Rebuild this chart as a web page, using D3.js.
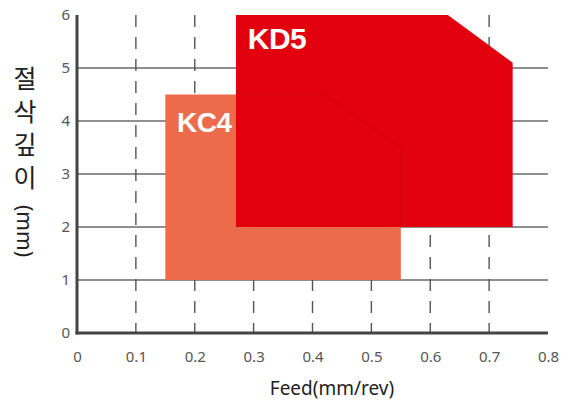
<!DOCTYPE html>
<html><head><meta charset="utf-8">
<script src="https://cdn.jsdelivr.net/npm/d3@7"></script>
<style>body{margin:0;background:#fff}svg{display:block}</style>
</head><body>
<svg id="c" width="569" height="405"></svg>
<script>
const xTicks = [0, 0.1, 0.2, 0.3, 0.4, 0.5, 0.6, 0.7, 0.8];
const yTicks = [0, 1, 2, 3, 4, 5, 6];
const seriesNames = ["KC4", "KD5"];
const kc4Points = [[0.15, 1], [0.15, 4.5], [0.42, 4.5], [0.55, 3.5], [0.55, 1]];
const kd5Points = [[0.27, 2], [0.27, 6], [0.63, 6], [0.74, 5.1], [0.74, 2]];
const labelPos = {KC4: [0.17, 3.8], KD5: [0.29, 5.35]};

const svg = d3.select("#c");
const x = d3.scaleLinear().domain([0, 0.8]).range([77, 548]);
const y = d3.scaleLinear().domain([0, 6]).range([333, 15]);

// horizontal grid
svg.append("g").selectAll("line").data(yTicks.filter(d => d > 0 && d < 6)).join("line")
  .attr("x1", x(0)).attr("x2", x(0.8)).attr("y1", d => y(d)).attr("y2", d => y(d))
  .attr("stroke", "#6a6a6a").attr("stroke-width", 1.6);
// vertical dashed grid
svg.append("g").selectAll("line").data(xTicks.filter(d => d > 0 && d < 0.8)).join("line")
  .attr("x1", d => x(d)).attr("x2", d => x(d)).attr("y1", y(6)).attr("y2", y(0))
  .attr("stroke", "#555").attr("stroke-width", 1.4).attr("stroke-dasharray", "12,10");

const line = d3.line().x(d => x(d[0])).y(d => y(d[1]));
svg.append("defs").append("clipPath").attr("id", "kd5clip")
  .append("path").attr("d", line(kd5Points) + "Z");
svg.append("path").attr("d", line(kc4Points) + "Z").attr("fill", "#ec6b4a");
svg.append("path").attr("d", line(kd5Points) + "Z").attr("fill", "#e2000f");
svg.append("path").attr("d", line(kc4Points) + "Z").attr("fill", "none")
  .attr("clip-path", "url(#kd5clip)")
  .attr("stroke", "#c4000d").attr("stroke-width", 1.2).attr("opacity", 0.6);

// labels
[["KC4", 28], ["KD5", 30]].forEach(([n, fs]) => {
  svg.append("text").attr("x", x(labelPos[n][0])).attr("y", y(labelPos[n][1]))
    .text(n).attr("fill", "#fff").attr("font-family", "Liberation Sans, Arial, sans-serif")
    .attr("font-weight", "bold").attr("font-size", fs).attr("letter-spacing", -0.5);
});

// axes lines
svg.append("line").attr("x1", x(0)).attr("x2", x(0)).attr("y1", y(6)).attr("y2", y(0) + 1.5)
  .attr("stroke", "#444").attr("stroke-width", 3);
svg.append("line").attr("x1", x(0) - 1.5).attr("x2", x(0.8)).attr("y1", y(0)).attr("y2", y(0))
  .attr("stroke", "#444").attr("stroke-width", 3);

// tick labels via axes
const xa = svg.append("g").attr("transform", `translate(0,${y(0)})`)
  .call(d3.axisBottom(x).tickValues(xTicks).tickSize(0).tickPadding(18).tickFormat(d => d === 0 ? "0" : d3.format(".1f")(d)));
const ya = svg.append("g").attr("transform", `translate(${x(0)},0)`)
  .call(d3.axisLeft(y).tickValues(yTicks).tickSize(0).tickPadding(7).tickFormat(d3.format("d")));
[xa, ya].forEach(g => {
  g.select(".domain").remove();
  g.selectAll("text").attr("fill", "#555").attr("font-size", 15)
    .attr("font-family", "Noto Sans, sans-serif");
});

// axis titles
svg.append("text").attr("x", 332).attr("y", 395).attr("text-anchor", "middle")
  .text("Feed(mm/rev)").attr("font-family", "Noto Sans, sans-serif").attr("font-size", 19).attr("fill", "#222");
svg.append("text").attr("x", 25).attr("y", 66)
  .style("writing-mode", "vertical-rl").attr("letter-spacing", 8)
  .text("절삭깊이").attr("font-family", "Noto Sans CJK KR, sans-serif").attr("font-size", 25).attr("fill", "#222");
svg.append("text").attr("transform", "translate(17,231) rotate(90)").attr("text-anchor", "middle")
  .text("(mm)").attr("font-family", "Noto Sans, sans-serif").attr("font-size", 21).attr("fill", "#222");
</script>
</body></html>
